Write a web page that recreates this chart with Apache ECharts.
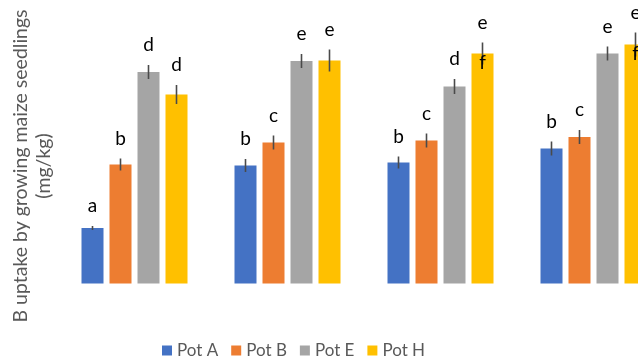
<!DOCTYPE html>
<html>
<head>
<meta charset="utf-8">
<script src="https://cdn.jsdelivr.net/npm/echarts@6/dist/echarts.min.js"></script>
<style>html,body{margin:0;padding:0;background:#fff;}#c{width:638px;height:360px;}</style>
</head>
<body>
<div id="c"></div>
<script>
// ---- data ----
const categories = ['1', '2', '3', '4'];
const seriesNames = ['Pot A', 'Pot B', 'Pot E', 'Pot H'];
const potA = [5.55, 11.8, 12.1, 13.5];
const potB = [11.9, 14.1, 14.3, 14.65];
const potE = [21.15, 22.25, 19.7, 23.0];
const potH = [18.9, 22.3, 23.0, 23.9];
const errA = [0.2, 0.65, 0.6, 0.7];
const errB = [0.6, 0.7, 0.7, 0.7];
const errE = [0.7, 0.7, 0.75, 0.7];
const errH = [0.95, 1.1, 1.1, 1.2];
const lettersA = ['a', 'b', 'b', 'b'];
const lettersB = ['b', 'c', 'c', 'c'];
const lettersE = ['d', 'e', 'd', 'e'];
const lettersH = ['d', 'e', 'e', 'e'];
const innerLettersH = ['', '', 'f', 'f'];
const yTitle = 'B uptake by growing maize seedlings\n(mg/kg)';

// ---- chart ----
const colors = ['#4472C4', '#ED7D31', '#A5A5A5', '#FFC000'];
const values = [potA, potB, potE, potH];
const errs = [errA, errB, errE, errH];
const letters = [lettersA, lettersB, lettersE, lettersH];
const inner = [null, null, null, innerLettersH];
const BAR_W = 22, BAR_GAP = 6;
const FONT = 'Lato';

const chart = echarts.init(document.getElementById('c'), null, {renderer: 'canvas'});

const series = [];
values.forEach((vals, i) => {
  series.push({
    name: seriesNames[i],
    type: 'bar',
    data: vals,
    barWidth: BAR_W,
    barGap: (BAR_GAP / BAR_W * 100) + '%',
    itemStyle: {color: colors[i]},
    silent: true
  });
});
values.forEach((vals, i) => {
  series.push({
    type: 'custom',
    name: seriesNames[i] + ' err',
    silent: true,
    z: 5,
    clip: false,
    data: vals.map((v, k) => [k, v, errs[i][k]]),
    encode: {x: 0, y: 1},
    renderItem: function (params, api) {
      const k = api.value(0), v = api.value(1), e = api.value(2);
      const off = (i - 1.5) * (BAR_W + BAR_GAP);
      const p = api.coord([k, v]);
      const t = api.coord([k, v + e]);
      const b = api.coord([k, v - e]);
      const x = p[0] + off;
      const children = [{
        type: 'line',
        shape: {x1: x, y1: t[1], x2: x, y2: b[1]},
        style: {stroke: '#4a4a4a', lineWidth: 1.6}
      }, {
        type: 'text',
        x: x, y: t[1] - 20,
        style: {text: letters[i][params.dataIndex], fill: '#000', font: '19px ' + FONT,
                textAlign: 'center', textVerticalAlign: 'middle'}
      }];
      if (inner[i] && inner[i][params.dataIndex]) {
        children.push({
          type: 'text',
          x: x, y: p[1] + 9,
          style: {text: inner[i][params.dataIndex], fill: '#000', font: '19px ' + FONT,
                  textAlign: 'center', textVerticalAlign: 'middle'}
        });
      }
      return {type: 'group', children: children};
    }
  });
});

chart.setOption({
  animation: false,
  backgroundColor: '#fff',
  grid: {left: 58, width: 612, top: 23.5, bottom: 76.5, outerBoundsMode: 'none', containLabel: false},
  xAxis: {type: 'category', data: categories, show: false},
  yAxis: {type: 'value', min: 0, max: 26, show: false},
  legend: {
    data: seriesNames,
    left: 162, top: 342, padding: 0,
    itemWidth: 10, itemHeight: 10, itemGap: 13,
    icon: 'rect',
    textStyle: {color: '#595959', fontSize: 17, fontFamily: FONT}
  },
  graphic: [{
    type: 'text',
    x: 32, y: 166,
    rotation: Math.PI / 2,
    style: {text: yTitle, fill: '#595959', font: '19.5px ' + FONT,
            textAlign: 'center', textVerticalAlign: 'middle', lineHeight: 23}
  }],
  series: series
});
</script>
</body>
</html>
